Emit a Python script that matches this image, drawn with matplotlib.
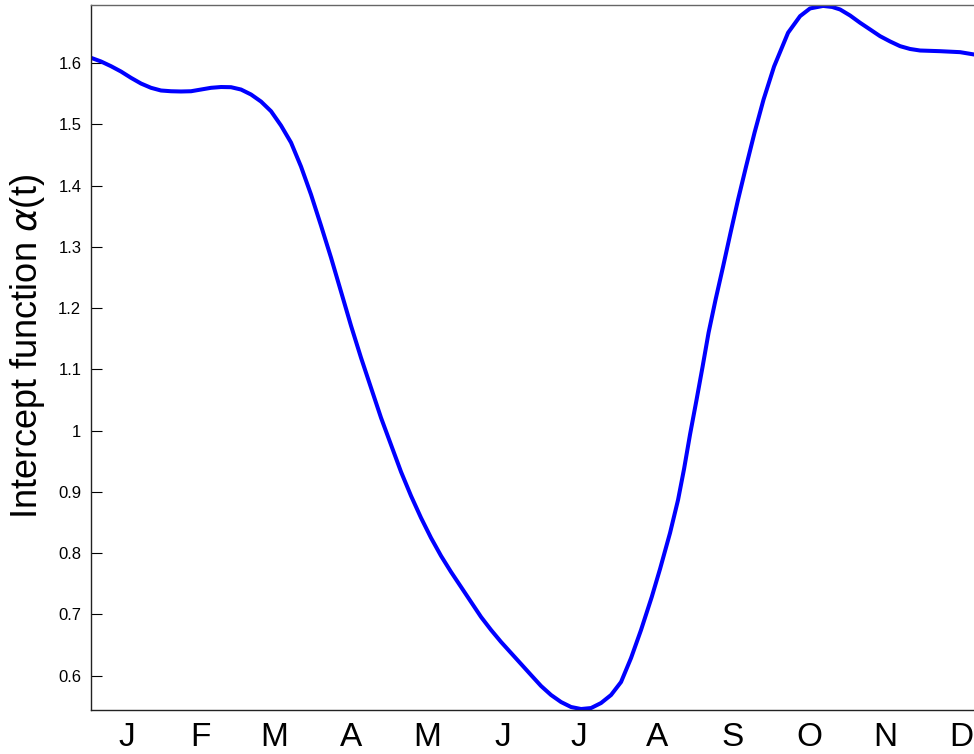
import matplotlib
matplotlib.use("Agg")
import matplotlib.pyplot as plt

# Day of year and intercept function values
days = [1.00, 5.00, 9.01, 13.01, 17.02, 21.02, 25.03, 29.03, 33.04, 37.04,
        41.05, 45.05, 49.06, 53.06, 57.07, 61.07, 65.08, 69.08, 73.09, 77.09,
        81.10, 85.10, 89.11, 93.11, 97.12, 101.12, 105.12, 109.13, 113.13, 117.14,
        121.14, 125.15, 129.15, 133.16, 137.16, 141.17, 145.17, 149.18, 153.18, 157.19,
        161.19, 165.20, 169.20, 173.21, 177.21, 181.22, 185.22, 189.23, 193.23, 197.24,
        201.24, 205.24, 209.25, 213.25, 217.26, 221.26, 225.55, 228.87, 232.88, 236.08,
        238.49, 240.89, 243.49, 245.90, 248.30, 251.10, 254.10, 257.11, 260.11, 263.31,
        266.72, 270.32, 274.53, 280.13, 284.94, 288.94, 294.15, 297.80, 300.96, 304.96,
        308.97, 312.97, 316.98, 320.98, 324.99, 328.99, 333.00, 341.01, 349.02, 354.63]
alpha = [1.6088, 1.6028, 1.5951, 1.5864, 1.5761, 1.5668, 1.5598, 1.5554, 1.5542, 1.5538,
         1.5542, 1.5570, 1.5598, 1.5611, 1.5608, 1.5570, 1.5489, 1.5374, 1.5216, 1.4982,
         1.4704, 1.4312, 1.3855, 1.3348, 1.2825, 1.2270, 1.1714, 1.1191, 1.0701, 1.0211,
         0.9770, 0.9328, 0.8936, 0.8577, 0.8250, 0.7956, 0.7694, 0.7449, 0.7204, 0.6959,
         0.6747, 0.6551, 0.6371, 0.6191, 0.6011, 0.5832, 0.5685, 0.5570, 0.5489, 0.5456,
         0.5472, 0.5554, 0.5685, 0.5897, 0.6289, 0.6747, 0.7286, 0.7743, 0.8332, 0.8871,
         0.9377, 0.9941, 1.0505, 1.1044, 1.1600, 1.2139, 1.2678, 1.3234, 1.3773, 1.4312,
         1.4868, 1.5407, 1.5946, 1.6497, 1.6768, 1.6894, 1.6935, 1.6918, 1.6877, 1.6779,
         1.6660, 1.6551, 1.6441, 1.6355, 1.6278, 1.6232, 1.6207, 1.6196, 1.6180, 1.6142]

month_labels = ["J", "F", "M", "A", "M", "J", "J", "A", "S", "O", "N", "D"]
month_mid = [15.5, 45, 74.5, 105, 135.5, 166, 196.5, 227.5, 258, 288.5, 319, 349.5]
yticks = [0.6, 0.7, 0.8, 0.9, 1.0, 1.1, 1.2, 1.3, 1.4, 1.5, 1.6]

plt.rcParams['font.family'] = ['Liberation Sans', 'DejaVu Sans']
plt.rcParams['mathtext.fontset'] = 'dejavusans'

fig = plt.figure(figsize=(9.74, 7.54), dpi=100)
ax = fig.add_axes([91 / 974, 44 / 754, 909 / 974, 705 / 754])

ax.plot(days, alpha, color=(0, 0, 1), linewidth=2.9,
        solid_capstyle='round', solid_joinstyle='round')

ax.set_xlim(1, 365)
ax.set_ylim(0.544, 1.695)

ax.set_xticks(month_mid)
ax.set_xticklabels(month_labels, fontsize=24)
ax.tick_params(axis='x', length=0, pad=9)

ax.set_yticks(yticks)
ax.set_yticklabels(["%g" % v for v in yticks], fontsize=12)
ax.tick_params(axis='y', direction='in', length=8, width=0.8, pad=7, right=False)

ax.spines['right'].set_visible(False)
for s in ['left', 'bottom']:
    ax.spines[s].set_color('#222222')
    ax.spines[s].set_linewidth(1.0)
ax.spines['top'].set_color('#666666')
ax.spines['top'].set_linewidth(1.0)

ax.set_ylabel(r"Intercept function $\alpha$(t)", fontsize=26)
ax.yaxis.set_label_coords(-0.048, 0.515)

fig.savefig("out.png", dpi=100)
